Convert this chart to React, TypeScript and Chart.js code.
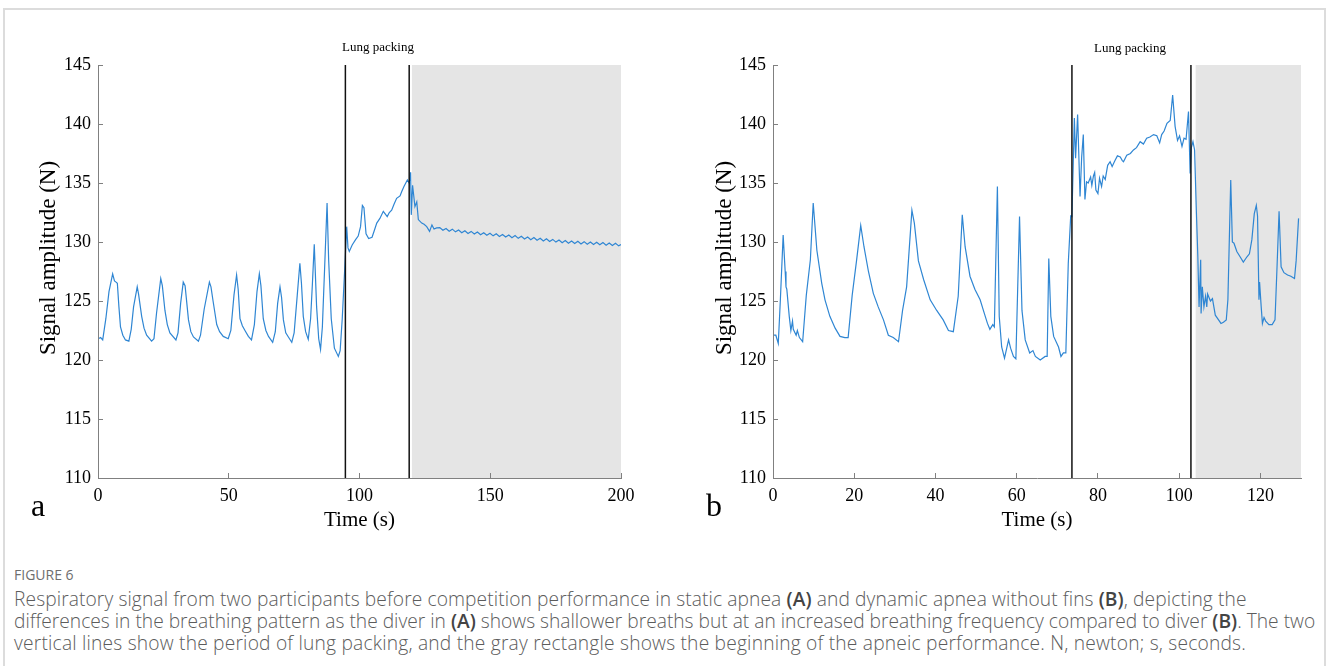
import React, { useEffect, useRef } from 'react';
import { Chart, registerables } from 'chart.js';

Chart.register(...registerables);

// ---------- Panel A (static apnea) ----------
const timeA = [
  0.1, 1.0, 1.8, 3.0, 4.2, 5.6, 6.3, 6.9, 7.4, 8.0, 8.6, 9.5, 10.5, 11.8, 12.7, 13.6, 15.0, 15.5, 16.7, 17.6,
  18.6, 20.5, 21.4, 22.4, 24.0, 24.6, 25.6, 26.5, 27.5, 29.8, 30.6, 31.6, 32.6, 33.3, 34.6, 35.5, 36.5, 38.4, 39.2, 40.6,
  42.6, 43.2, 44.0, 45.4, 46.5, 47.9, 49.8, 50.8, 52.0, 53.0, 53.6, 54.3, 55.2, 56.2, 57.5, 58.7, 59.8, 60.8, 61.7, 62.3,
  63.2, 64.2, 65.2, 66.8, 67.8, 68.7, 69.6, 70.2, 70.9, 71.8, 72.8, 74.1, 75.0, 76.2, 77.2, 77.8, 78.5, 79.4, 80.4, 81.3,
  82.0, 82.7, 83.6, 84.4, 85.1, 85.8, 86.7, 87.6, 88.2, 89.2, 90.4, 91.9, 92.6, 93.4, 94.3, 95.1, 95.6, 96.1, 97.2, 98.5,
  99.5, 100.4, 101.1, 101.7, 102.5, 103.5, 104.8, 105.7, 106.6, 107.8, 109.1, 110.6, 111.4, 112.3, 113.2, 114.2, 115.5, 116.2, 117.0, 118.3,
  119.0, 119.55, 119.8, 120.3, 121.2, 121.9, 122.5, 123.8, 124.7, 125.7, 126.8, 127.7, 128.5, 129.5,
  130.7, 131.9, 133.1, 134.3, 135.5, 136.7, 137.9, 139.1, 140.3, 141.5, 142.7, 143.9, 145.1, 146.3, 147.5, 148.7, 149.9, 151.1, 152.3, 153.5,
  154.7, 155.9, 157.1, 158.3, 159.5, 160.7, 161.9, 163.1, 164.3, 165.5, 166.7, 167.9, 169.1, 170.3, 171.5, 172.7, 173.9, 175.1, 176.3, 177.5,
  178.7, 179.9, 181.1, 182.3, 183.5, 184.7, 185.9, 187.1, 188.3, 189.5, 190.7, 191.9, 193.1, 194.3, 195.5, 196.7, 197.9, 199.1, 200.0,
];
const signalA = [
  121.8, 121.9, 121.7, 123.5, 125.8, 127.3, 126.7, 126.6, 126.5, 124.5, 122.8, 122.1, 121.7, 121.6, 122.6, 124.5, 126.2, 125.6, 123.7, 122.7,
  122.1, 121.6, 121.8, 124.0, 126.9, 126.3, 124.2, 123.0, 122.3, 121.7, 122.3, 124.8, 126.6, 126.3, 123.4, 122.4, 121.95, 121.6, 122.1, 124.3,
  126.6, 126.2, 125.0, 123.0, 122.4, 122.0, 121.8, 122.5, 125.5, 127.2, 126.0, 123.5, 122.9, 122.5, 122.0, 121.7, 123.0, 125.8, 127.3, 126.3,
  123.5, 122.5, 122.0, 121.5, 122.4, 124.8, 126.2, 125.3, 123.4, 122.3, 121.95, 121.5, 122.3, 125.5, 128.2, 126.5, 123.7, 122.4, 121.75, 123.5,
  126.5, 129.8, 124.5, 121.8, 120.9, 122.8, 128.0, 133.3, 128.5, 123.5, 121.0, 120.3, 120.8, 123.5, 127.5, 131.3, 129.5, 129.2, 129.75, 130.2,
  130.5, 131.3, 133.1, 132.9, 130.7, 130.3, 130.4, 131.0, 131.6, 132.0, 132.6, 132.15, 132.5, 132.7, 133.2, 133.7, 133.9, 134.3, 134.7, 135.25,
  135.0, 135.9, 132.3, 134.8, 133.0, 133.4, 131.9, 131.6, 131.5, 131.3, 130.9, 131.45, 131.1, 131.2,
  131.22, 130.99, 131.15, 130.92, 131.09, 130.86, 131.02, 130.79, 130.96, 130.73, 130.9, 130.68, 130.85, 130.62, 130.79, 130.57, 130.74, 130.52, 130.69, 130.47,
  130.64, 130.42, 130.59, 130.36, 130.54, 130.31, 130.48, 130.26, 130.43, 130.2, 130.38, 130.15, 130.32, 130.09, 130.27, 130.04, 130.22, 129.99, 130.17, 129.94,
  130.12, 129.9, 130.09, 129.87, 130.06, 129.84, 130.03, 129.81, 130.0, 129.79, 129.98, 129.76, 129.95, 129.73, 129.92, 129.7, 129.89, 129.67, 129.78,
];
const packingA = [94.6, 119.0];
const apneaA = [120.0, 200.0];
const xTicksA = [0, 50, 100, 150, 200];

// ---------- Panel B (dynamic apnea without fins) ----------
const timeB = [
  0.25, 0.7, 1.3, 1.8, 2.5, 3.0, 3.2, 3.4, 4.0, 4.4, 4.8, 5.0, 5.7, 6.0, 6.5, 7.3, 8.2, 9.2, 9.9, 10.8,
  12.0, 12.8, 14.0, 15.3, 16.5, 17.7, 18.5, 19.5, 20.6, 21.6, 22.4, 23.5, 24.7, 25.9, 27.2, 28.4, 29.6, 30.9, 31.9, 32.9,
  34.2, 34.8, 35.8, 37.1, 38.7, 40.3, 41.9, 43.2, 44.4, 45.6, 46.6, 47.3, 48.5, 49.7, 51.0, 51.8, 52.8, 53.4, 54.1, 54.5,
  55.25, 55.7, 56.3, 57.0, 58.0, 58.5, 59.2, 59.8, 60.7, 61.3, 62.1, 63.2, 64.0, 64.6, 65.8, 67.0, 67.5, 67.9, 68.4, 69.1,
  70.3, 70.9, 71.5, 72.1, 72.7, 73.3, 73.6, 74.2, 74.5, 75.0, 75.6, 76.0, 76.4, 76.8, 77.2,
  77.6, 78.2, 78.5, 78.9, 79.2, 79.5, 80.0, 80.4, 80.9, 81.3, 81.8, 82.4, 83.0, 83.5, 84.2, 84.8, 85.5, 86.0, 86.3, 87.1,
  88.0, 88.75, 89.5, 90.4, 91.2, 92.0, 92.8, 93.7, 94.5, 95.2, 95.7, 96.3, 97.0,
  97.8, 98.4, 99.0, 99.6, 100.1,
  100.7, 101.2, 101.7, 102.3, 102.7, 103.0, 103.4, 103.8, 104.2, 104.6, 104.9, 105.3, 105.4, 105.7, 106.1, 106.5, 106.8, 107.0, 107.7, 108.2,
  108.9, 109.7, 110.3, 110.9, 111.6, 112.0, 112.7, 113.1, 113.5, 114.2, 115.0, 115.8, 116.7, 117.3, 117.9, 118.5, 119.0, 119.3, 119.65, 119.8,
  120.2, 120.5, 120.9, 121.3, 122.1, 122.9, 123.6, 124.1, 124.6, 125.1, 125.8, 126.7, 127.5, 128.4, 128.8, 129.4,
];
const signalB = [
  122.1, 122.1, 121.4, 125.0, 130.6, 127.5, 126.2, 126.0, 123.7, 122.5, 123.3, 122.6, 122.1, 122.5, 121.9, 121.55, 125.5, 128.5, 133.3, 129.3,
  126.5, 125.1, 123.7, 122.7, 122.0, 121.9, 121.9, 125.5, 128.5, 131.4, 129.6, 127.5, 125.65, 124.5, 123.4, 122.1, 121.9, 121.55, 124.2, 126.2,
  132.7, 131.6, 128.4, 126.8, 125.1, 124.2, 123.4, 122.5, 122.4, 125.4, 132.3, 129.6, 127.1, 126.0, 125.1, 124.2, 123.1, 122.6, 123.0, 122.8,
  134.7, 123.7, 121.1, 120.15, 121.7, 121.0, 120.3, 120.1, 132.15, 124.2, 121.7, 120.6, 120.8, 120.3, 120.0, 120.3, 120.3, 128.6, 123.7, 122.0,
  121.1, 120.3, 120.6, 120.6, 128.2, 132.2, 132.15, 140.5, 137.1, 140.8, 133.85, 137.2, 139.1, 133.6, 135.1,
  135.0, 135.5, 134.8, 135.6, 135.9, 134.4, 134.1, 135.4, 134.7, 135.6, 135.3, 136.5, 136.8, 136.4, 136.9, 137.3, 137.2, 136.9, 136.8, 137.35,
  137.5, 137.8, 138.0, 138.5, 138.3, 138.8, 138.9, 139.1, 139.0, 138.4, 139.1, 139.4, 140.05,
  140.3, 142.45, 139.8, 138.6, 139.0,
  138.1, 138.8, 138.7, 141.05, 135.8, 138.0, 138.5, 137.8, 133.0, 128.75, 124.5, 128.5, 123.95, 126.2, 124.5, 125.4, 124.5, 125.6, 125.0, 125.2,
  123.8, 123.4, 123.1, 123.2, 123.4, 125.1, 135.25, 130.0, 129.9, 129.2, 128.75, 128.3, 128.75, 129.0, 130.2, 132.4, 133.1, 132.2, 125.1, 126.6,
  124.5, 123.1, 123.6, 123.3, 123.0, 123.0, 123.4, 127.9, 132.6, 127.9, 127.4, 127.2, 127.1, 126.9, 128.4, 132.0,
];
const packingB = [73.6, 102.9];
const apneaB = [104.0, 130.0];
const xTicksB = [0, 20, 40, 60, 80, 100, 120];

// ---------- shared ----------
const yTicks = [110, 115, 120, 125, 130, 135, 140, 145];
const yRange = [110, 145];

const SERIF = "'Liberation Serif', 'Times New Roman', serif";
const SANS = "'Open Sans', 'Noto Sans', sans-serif";
const AXIS_GRAY = '#808080';

type PanelProps = {
  left: number;
  time: number[];
  signal: number[];
  packing: number[];
  apnea: number[];
  xTicks: number[];
  xMax: number;
  yAxisWidth: number;
  padRight: number;
};

function Panel(props: PanelProps) {
  const ref = useRef<HTMLCanvasElement | null>(null);
  useEffect(() => {
    const { time, signal, packing, apnea, xTicks, xMax, yAxisWidth, padRight } = props;
    const step = xTicks[1] - xTicks[0];
    const datasets: any[] = [];
    packing.forEach((t) => {
      datasets.push({
        data: [
          { x: t, y: yRange[0] },
          { x: t, y: yRange[1] },
        ],
        borderColor: '#111111',
        borderWidth: 1.5,
        pointRadius: 0,
        fill: false,
        order: 1,
      });
    });
    datasets.push({
      data: time.map((t, i) => ({ x: t, y: signal[i] })),
      borderColor: '#2f86d3',
      borderWidth: 1.2,
      pointRadius: 0,
      tension: 0,
      fill: false,
      order: 2,
    });
    datasets.push({
      data: [
        { x: apnea[0], y: yRange[1] },
        { x: apnea[1], y: yRange[1] },
      ],
      borderWidth: 0,
      borderColor: 'rgba(0,0,0,0)',
      backgroundColor: '#e5e5e5',
      pointRadius: 0,
      fill: 'start',
      order: 3,
    });

    const chart = new Chart(ref.current as HTMLCanvasElement, {
      type: 'line',
      data: { datasets },
      options: {
        animation: false,
        responsive: false,
        devicePixelRatio: 1,
        events: [],
        layout: { padding: { left: 0, right: padRight, top: 65, bottom: 22 } },
        plugins: { legend: { display: false }, tooltip: { enabled: false } },
        scales: {
          x: {
            type: 'linear',
            min: 0,
            max: xMax,
            afterFit: (s: any) => {
              s.height = 60;
            },
            afterBuildTicks: (s: any) => {
              s.ticks = xTicks.map((v) => ({ value: v }));
            },
            ticks: {
              stepSize: step,
              includeBounds: false,
              autoSkip: false,
              maxRotation: 0,
              color: '#000',
              padding: 12,
              font: { family: SERIF, size: 18 },
            },
            grid: { drawOnChartArea: false, drawTicks: true, tickLength: -5, color: AXIS_GRAY, z: 1 },
            border: { display: true, color: AXIS_GRAY, width: 1, z: 1 },
            title: {
              display: true,
              text: 'Time (s)',
              color: '#000',
              font: { family: SERIF, size: 21 },
              padding: { top: 0, bottom: 5 },
            },
          },
          y: {
            type: 'linear',
            min: yRange[0],
            max: yRange[1],
            afterFit: (s: any) => {
              s.width = yAxisWidth;
            },
            afterBuildTicks: (s: any) => {
              s.ticks = yTicks.map((v) => ({ value: v }));
            },
            ticks: {
              stepSize: 5,
              autoSkip: false,
              color: '#000',
              padding: 12,
              font: { family: SERIF, size: 18 },
            },
            grid: { drawOnChartArea: false, drawTicks: true, tickLength: -5, color: AXIS_GRAY, z: 1 },
            border: { display: true, color: AXIS_GRAY, width: 1, z: 1 },
            title: { display: false },
          },
        },
      } as any,
    });
    return () => chart.destroy();
  }, []);
  return (
    <canvas
      ref={ref}
      width={664}
      height={560}
      style={{ position: 'absolute', left: props.left, top: 0, width: 664, height: 560 }}
    />
  );
}

const textAbs = (x: number, y: number, extra: React.CSSProperties, rotate = 0): React.CSSProperties => ({
  position: 'absolute',
  left: x,
  top: y,
  transform: `translate(-50%, -50%) rotate(${rotate}deg)`,
  whiteSpace: 'nowrap',
  lineHeight: 1,
  ...extra,
});

export default function App() {
  useEffect(() => {
    document.body.style.overflow = 'hidden';
  }, []);
  const captionStyle: React.CSSProperties = {
    position: 'absolute',
    left: 14,
    fontFamily: SANS,
    fontSize: 19.2,
    fontWeight: 300,
    color: '#5c5c5c',
    whiteSpace: 'nowrap',
    lineHeight: '22px',
  };
  const B = (s: string) => <b style={{ fontWeight: 600, color: '#444' }}>{s}</b>;
  const ylab: React.CSSProperties = { fontFamily: SERIF, fontSize: 23, color: '#000' };
  return (
    <div style={{ position: 'absolute', left: 0, top: 0, width: 1328, height: 666, background: '#fff', overflow: 'hidden' }}>
      <div
        style={{
          position: 'absolute',
          left: 3,
          top: 8,
          width: 1323,
          height: 670,
          border: '2px solid #dcdcdc',
          boxSizing: 'border-box',
        }}
      />
      <Panel left={0} time={timeA} signal={signalA} packing={packingA} apnea={apneaA} xTicks={xTicksA} xMax={200} yAxisWidth={98} padRight={43} />
      <Panel left={664} time={timeB} signal={signalB} packing={packingB} apnea={apneaB} xTicks={xTicksB} xMax={130} yAxisWidth={109} padRight={27} />
      <div style={textAbs(47, 258, ylab, -90)}>Signal amplitude (N)</div>
      <div style={textAbs(723, 258, ylab, -90)}>Signal amplitude (N)</div>
      <div style={textAbs(378, 46, { fontFamily: SERIF, fontSize: 13, color: '#000' })}>Lung packing</div>
      <div style={textAbs(1130, 47, { fontFamily: SERIF, fontSize: 13, color: '#000' })}>Lung packing</div>
      <div style={textAbs(38, 505, { fontFamily: SERIF, fontSize: 32, color: '#000' })}>a</div>
      <div style={textAbs(714, 505, { fontFamily: SERIF, fontSize: 32, color: '#000' })}>b</div>
      <div style={{ ...captionStyle, top: 565, fontSize: 14, fontWeight: 400, color: '#6e6e6e', lineHeight: '20px' }}>FIGURE 6</div>
      <div style={{ ...captionStyle, top: 588, letterSpacing: 0.1 }}>
        Respiratory signal from two participants before competition performance in static apnea {B('(A)')} and dynamic apnea without fins {B('(B)')}, depicting the
      </div>
      <div style={{ ...captionStyle, top: 610 }}>
        differences in the breathing pattern as the diver in {B('(A)')} shows shallower breaths but at an increased breathing frequency compared to diver {B('(B)')}. The two
      </div>
      <div style={{ ...captionStyle, top: 632, letterSpacing: 0.2 }}>
        vertical lines show the period of lung packing, and the gray rectangle shows the beginning of the apneic performance. N, newton; s, seconds.
      </div>
    </div>
  );
}
